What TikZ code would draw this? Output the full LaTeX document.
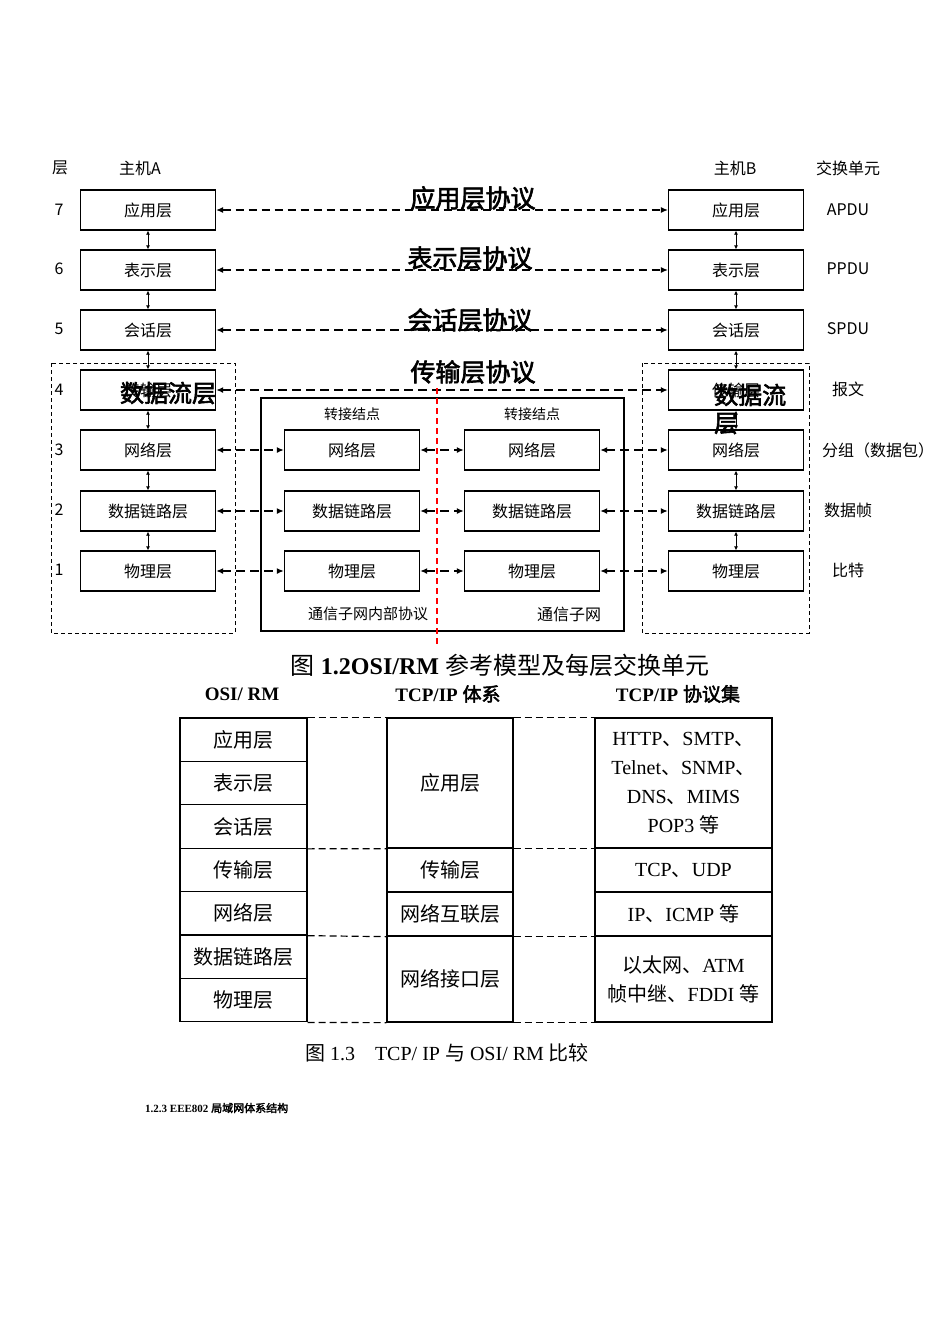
\documentclass[tikz,border=0pt]{standalone}
\usepackage{fontspec}
\setmainfont{Liberation Serif}
\newfontfamily\cjk{Noto Sans CJK SC}
\newfontfamily\cjkbold[FakeBold=2.5]{Noto Sans CJK SC}
\newcommand\setsz[1]{\fontsize{#1}{#1}\selectfont}
\newcommand\zh[1]{{\cjk #1}}
\usetikzlibrary{arrows.meta}

\tikzset{
  layer/.style={draw, line width=1.3pt, minimum width=135pt, minimum height=40pt, inner sep=0pt, font=\cjk\setsz{16}},
  unit/.style={font=\cjk\setsz{16}},
  plabel/.style={font=\cjkbold\setsz{25}},
  flow/.style={font=\cjkbold\setsz{24}, inner sep=0pt},
  proto/.style={<->, dash pattern=on 8pt off 5pt, line width=1.1pt},
  protothick/.style={<->, dash pattern=on 9pt off 5pt, line width=2.2pt},
  vlink/.style={<->, line width=1pt, >={Latex[length=4pt,width=4pt]}},
  zone/.style={dash pattern=on 4pt off 3pt, line width=1pt},
  cell/.style={draw, line width=1.3pt, inner sep=0pt, align=center, font=\setsz{20}},
  gap/.style={dash pattern=on 7pt off 4pt, line width=1.2pt}
}

\begin{document}
\begin{tikzpicture}[x=1pt, y=-1pt, >={Latex[length=7pt,width=6pt]}]
\useasboundingbox[fill=white] (0,0) rectangle (950,1344);

% headings
\node (hdLayer) at (60, 168)  [unit] {层};
\node (hdA)     at (140, 168) [unit] {主机A};
\node (hdB)     at (735, 168) [unit] {主机B};
\node (hdUnit)  at (848, 168) [unit] {交换单元};

% layer numbers
\node (n7) at (59, 210) [unit] {7};
\node (n6) at (59, 269) [unit] {6};
\node (n5) at (59, 329) [unit] {5};
\node (n4) at (59, 390) [unit] {4};
\node (n3) at (59, 450) [unit] {3};
\node (n2) at (59, 510) [unit] {2};
\node (n1) at (59, 570) [unit] {1};

% host A
\node (hA7) at (148, 210) [layer] {应用层};
\node (hA6) at (148, 270) [layer] {表示层};
\node (hA5) at (148, 330) [layer] {会话层};
\node (hA4) at (148, 390) [layer] {传输层};
\node (hA3) at (148, 450) [layer] {网络层};
\node (hA2) at (148, 511) [layer] {数据链路层};
\node (hA1) at (148, 571) [layer] {物理层};

% host B
\node (hB7) at (736, 210) [layer] {应用层};
\node (hB6) at (736, 270) [layer] {表示层};
\node (hB5) at (736, 330) [layer] {会话层};
\node (hB4) at (736, 390) [layer] {传输层};
\node (hB3) at (736, 450) [layer] {网络层};
\node (hB2) at (736, 511) [layer] {数据链路层};
\node (hB1) at (736, 571) [layer] {物理层};

% exchange units
\node (u7) at (848, 210) [unit] {APDU};
\node (u6) at (848, 269) [unit] {PPDU};
\node (u5) at (848, 329) [unit] {SPDU};
\node (u4) at (848, 389) [unit] {报文};
\node (u3) at (878, 450) [unit] {分组（数据包）};
\node (u2) at (848, 510) [unit] {数据帧};
\node (u1) at (848, 570) [unit] {比特};

% communication subnet
\draw[line width=1.3pt] (261, 398) rectangle (624, 631);
\node (sw1) at (352, 414) [unit, font=\cjk\setsz{14}] {转接结点};
\node (sw2) at (532, 414) [unit, font=\cjk\setsz{14}] {转接结点};
\node (tL3) at (352, 450) [layer] {网络层};
\node (tL2) at (352, 511) [layer] {数据链路层};
\node (tL1) at (352, 571) [layer] {物理层};
\node (tR3) at (532, 450) [layer] {网络层};
\node (tR2) at (532, 511) [layer] {数据链路层};
\node (tR1) at (532, 571) [layer] {物理层};
\node (subIn)  at (368, 614) [unit, font=\cjk\setsz{15}] {通信子网内部协议};
\node (subNet) at (569, 614) [unit] {通信子网};

% dashed host zones
\draw[zone] (51, 363) rectangle (235, 633);
\draw[zone] (642, 363) rectangle (809, 633);

% vertical links
\path[vlink] (hA7.south) edge (hA6.north);
\path[vlink] (hA6.south) edge (hA5.north);
\path[vlink] (hA5.south) edge (hA4.north);
\path[vlink] (hA4.south) edge (hA3.north);
\path[vlink] (hA3.south) edge (hA2.north);
\path[vlink] (hA2.south) edge (hA1.north);

\path[vlink] (hB7.south) edge (hB6.north);
\path[vlink] (hB6.south) edge (hB5.north);
\path[vlink] (hB5.south) edge (hB4.north);
\path[vlink] (hB4.south) edge (hB3.north);
\path[vlink] (hB3.south) edge (hB2.north);
\path[vlink] (hB2.south) edge (hB1.north);

% peer protocols
\path[proto] (hA7.east) edge (hB7.west);
\path[proto] (hA6.east) edge (hB6.west);
\path[protothick] (hA5.east) edge (hB5.west);
\path[protothick] (hA4.east) edge (hB4.west);

\path[protothick] (hA3.east) edge (tL3.west);
\path[protothick] (hA2.east) edge (tL2.west);
\path[protothick] (hA1.east) edge (tL1.west);
\path[protothick] (tL3.east) edge (tR3.west);
\path[protothick] (tL2.east) edge (tR2.west);
\path[protothick] (tL1.east) edge (tR1.west);
\path[protothick] (tR3.east) edge (hB3.west);
\path[protothick] (tR2.east) edge (hB2.west);
\path[protothick] (tR1.east) edge (hB1.west);

\node (p7) at (473, 198) [plabel] {应用层协议};
\node (p6) at (470, 258) [plabel] {表示层协议};
\node (p5) at (470, 320) [plabel] {会话层协议};
\node (p4) at (473, 372) [plabel] {传输层协议};

% overlaid labels
\node (flowA) at (168, 393) [flow] {数据流层};
\node (flowB) at (714, 409) [flow, anchor=west, align=left, font=\cjkbold\fontsize{24}{28}\selectfont] {数据流\\层};

% red guide
\draw[red, dash pattern=on 6pt off 4pt, line width=1.2pt] (437, 388) -- (437, 645);

% caption 1.2
\node (cap2) at (500, 665) [font=\setsz{24}] {\zh{图} \textbf{1.2OSI/RM} \zh{参考模型及每层交换单元}};

% comparison table
\node (hdOsi) at (242, 694) [font=\setsz{19}] {\textbf{OSI/ RM}};
\node (hdTcp) at (448, 694) [font=\setsz{19}] {\textbf{TCP/IP} {\cjkbold 体系}};
\node (hdSet) at (678, 694) [font=\setsz{19}] {\textbf{TCP/IP} {\cjkbold 协议集}};

\node (o7) at (243.5, 739.7)  [cell, minimum width=127pt, minimum height=43.4pt] {\zh{应用层}};
\node (o6) at (243.5, 783.1)  [cell, minimum width=127pt, minimum height=43.4pt] {\zh{表示层}};
\node (o5) at (243.5, 826.5)  [cell, minimum width=127pt, minimum height=43.4pt] {\zh{会话层}};
\node (o4) at (243.5, 869.9)  [cell, minimum width=127pt, minimum height=43.4pt] {\zh{传输层}};
\node (o3) at (243.5, 913.3)  [cell, minimum width=127pt, minimum height=43.4pt] {\zh{网络层}};
\node (o2) at (243.5, 956.7)  [cell, minimum width=127pt, minimum height=43.4pt] {\zh{数据链路层}};
\node (o1) at (243.5, 1000.1) [cell, minimum width=127pt, minimum height=43.4pt] {\zh{物理层}};

\node (tApp)  at (450, 783)   [cell, minimum width=126pt, minimum height=130pt] {\zh{应用层}};
\node (tTran) at (450, 870)   [cell, minimum width=126pt, minimum height=44pt] {\zh{传输层}};
\node (tNet)  at (450, 914)   [cell, minimum width=126pt, minimum height=44pt] {\zh{网络互联层}};
\node (tLink) at (450, 979)   [cell, minimum width=126pt, minimum height=86pt] {\zh{网络接口层}};

\node (sApp)  at (683.5, 783) [cell, minimum width=177pt, minimum height=130pt, font=\fontsize{20}{29}\selectfont] {HTTP\zh{、}SMTP\zh{、}\\Telnet\zh{、}SNMP\zh{、}\\DNS\zh{、}MIMS\\POP3 \zh{等}};
\node (sTran) at (683.5, 870) [cell, minimum width=177pt, minimum height=44pt] {TCP\zh{、}UDP};
\node (sNet)  at (683.5, 914) [cell, minimum width=177pt, minimum height=44pt] {IP\zh{、}ICMP \zh{等}};
\node (sLink) at (683.5, 979) [cell, minimum width=177pt, minimum height=86pt, font=\fontsize{20}{29}\selectfont] {\zh{以太网、}ATM\\\zh{帧中继、}FDDI \zh{等}};

\draw[gap] (o7.north east) -- (tApp.north west);
\draw[gap] (o5.south east) -- (tApp.south west);
\draw[gap] (o3.south east) -- (tNet.south west);
\draw[gap] (o1.south east) -- (tLink.south west);
\draw[gap] (tApp.north east) -- (sApp.north west);
\draw[gap] (tApp.south east) -- (sApp.south west);
\draw[gap] (tNet.south east) -- (sNet.south west);
\draw[gap] (tLink.south east) -- (sLink.south west);

% caption 1.3 and heading
\node (cap3) at (447, 1053) [font=\setsz{20}] {\zh{图} 1.3\quad TCP/ IP \zh{与} OSI/ RM \zh{比较}};
\node (sec) at (145, 1108) [anchor=west, inner sep=0pt, font=\setsz{11}] {\textbf{1.2.3 EEE802} {\cjkbold 局域网体系结构}};

\end{tikzpicture}
\end{document}
